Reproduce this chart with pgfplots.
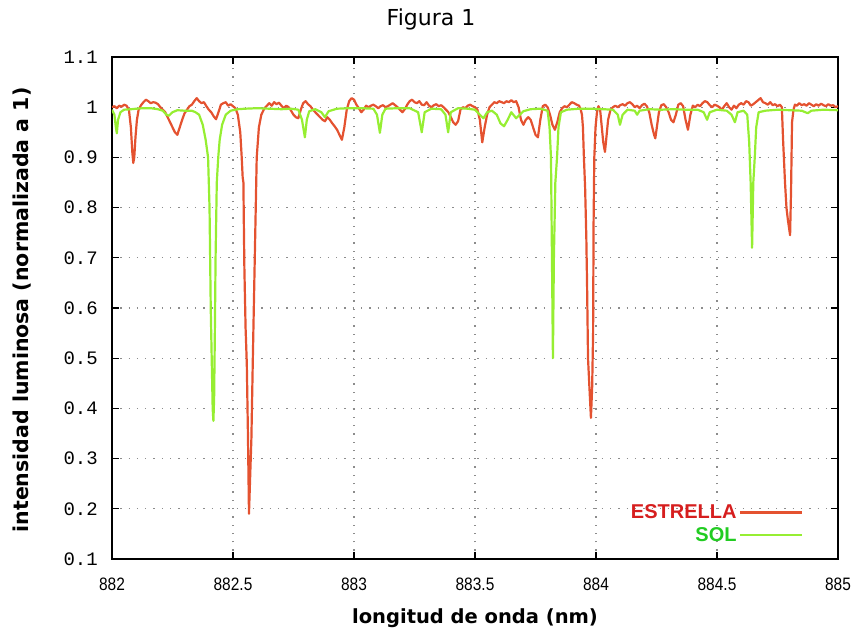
\documentclass[border=0pt]{standalone}
\usepackage{pgfplots}
\pgfplotsset{compat=1.18}
\usepackage{fontspec}
\setmainfont{DejaVu Sans}
\newfontfamily\monofont{Liberation Mono}
\newfontfamily\arialfont{Liberation Sans}
\newfontfamily\narrowfont{Liberation Sans}[FakeStretch=0.86]
\definecolor{redline}{RGB}{228,82,48}
\definecolor{greenline}{RGB}{150,238,50}
\definecolor{legred}{RGB}{214,30,30}
\definecolor{leggreen}{RGB}{34,204,34}
\definecolor{gridgray}{RGB}{140,140,140}

\pgfplotstableread{
x y
882.00 1.000
882.01 1.002
882.02 0.998
882.03 1.003
882.04 1.001
882.05 1.005
882.06 1.003
882.07 0.995
882.078 0.96
882.084 0.91
882.088 0.889
882.092 0.90
882.097 0.94
882.103 0.975
882.11 0.995
882.12 1.004
882.13 1.010
882.14 1.015
882.15 1.012
882.16 1.008
882.17 1.010
882.18 1.009
882.19 1.006
882.20 1.000
882.21 0.995
882.22 0.99
882.235 0.975
882.25 0.96
882.26 0.95
882.27 0.945
882.28 0.96
882.29 0.975
882.30 0.988
882.31 0.995
882.32 1.002
882.33 1.005
882.34 1.012
882.35 1.018
882.36 1.012
882.37 1.008
882.38 1.010
882.39 1.002
882.40 0.995
882.41 0.99
882.42 0.982
882.43 0.976
882.44 0.99
882.45 1.005
882.46 1.008
882.47 1.010
882.48 1.003
882.49 1.006
882.50 1.002
882.51 0.998
882.52 0.985
882.53 0.95
882.536 0.90
882.540 0.86
882.543 0.85
882.545 0.76
882.547 0.68
882.552 0.56
882.557 0.49
882.562 0.34
882.566 0.19
882.570 0.25
882.576 0.34
882.582 0.50
882.590 0.70
882.598 0.90
882.607 0.96
882.617 0.985
882.63 0.998
882.64 1.003
882.65 1.008
882.66 1.003
882.67 1.010
882.68 1.006
882.69 1.009
882.70 1.003
882.71 0.998
882.72 1.003
882.73 1.000
882.74 0.993
882.75 0.985
882.76 0.98
882.77 0.978
882.78 0.995
882.79 1.008
882.80 1.012
882.81 1.006
882.82 1.002
882.83 0.995
882.84 0.99
882.85 0.985
882.86 0.98
882.87 0.975
882.88 0.972
882.89 0.98
882.90 0.975
882.91 0.968
882.92 0.962
882.93 0.955
882.94 0.945
882.95 0.935
882.96 0.96
882.97 0.995
882.98 1.012
882.99 1.018
883.00 1.015
883.01 1.005
883.02 0.998
883.03 0.99
883.04 0.995
883.05 1.003
883.06 1.000
883.07 1.003
883.08 1.005
883.09 1.002
883.10 0.998
883.11 1.002
883.12 1.004
883.13 1.000
883.14 1.002
883.15 1.005
883.16 1.008
883.17 1.004
883.18 1.000
883.19 0.995
883.20 0.99
883.21 0.996
883.22 1.005
883.23 1.012
883.24 1.015
883.25 1.01
883.26 1.008
883.27 1.012
883.28 1.005
883.29 1.004
883.30 1.010
883.31 1.003
883.32 1.000
883.33 1.004
883.34 1.006
883.35 1.002
883.36 1.004
883.37 1.000
883.38 0.995
883.39 0.99
883.40 0.98
883.41 0.97
883.42 0.965
883.43 0.972
883.44 0.995
883.45 1.000
883.46 0.998
883.47 1.003
883.48 1.005
883.49 1.002
883.50 1.000
883.51 0.995
883.52 0.975
883.53 0.93
883.54 0.96
883.55 0.985
883.56 1.000
883.57 1.005
883.58 1.010
883.59 1.008
883.60 1.012
883.61 1.010
883.62 1.008
883.63 1.012
883.64 1.010
883.65 1.014
883.66 1.010
883.67 1.012
883.68 1.000
883.69 0.975
883.70 0.965
883.71 0.975
883.72 0.980
883.73 0.975
883.74 0.960
883.75 0.945
883.76 0.940
883.77 0.975
883.78 1.002
883.79 1.005
883.80 1.000
883.81 0.985
883.82 0.965
883.83 0.955
883.84 0.970
883.85 0.990
883.86 0.998
883.87 1.002
883.88 1.000
883.89 1.005
883.90 1.010
883.91 1.008
883.92 1.005
883.93 1.003
883.937 0.995
883.942 0.985
883.946 0.96
883.950 0.90
883.955 0.84
883.960 0.74
883.963 0.65
883.967 0.50
883.972 0.45
883.979 0.381
883.984 0.44
883.988 0.55
883.990 0.77
883.993 0.90
883.998 0.96
884.004 0.99
884.01 1.002
884.017 0.995
884.024 0.96
884.030 0.93
884.037 0.911
884.043 0.94
884.05 0.975
884.06 0.995
884.07 1.000
884.08 1.003
884.09 1.000
884.10 1.004
884.11 1.006
884.12 1.003
884.13 1.008
884.14 1.010
884.15 1.006
884.16 1.000
884.17 1.003
884.18 0.998
884.19 1.004
884.20 1.007
884.21 1.002
884.22 0.99
884.23 0.965
884.24 0.945
884.245 0.938
884.25 0.955
884.26 0.99
884.27 1.004
884.28 1.006
884.29 1.000
884.30 0.99
884.31 0.975
884.32 0.97
884.33 0.985
884.34 1.005
884.35 1.008
884.36 1.002
884.37 0.975
884.38 0.955
884.39 0.985
884.40 1.003
884.41 1.000
884.42 1.005
884.43 1.002
884.44 1.008
884.45 1.012
884.46 1.010
884.47 1.004
884.48 1.000
884.49 1.005
884.50 1.003
884.51 1.000
884.52 0.995
884.53 1.002
884.54 1.008
884.55 1.000
884.56 0.995
884.57 1.003
884.58 0.998
884.59 1.005
884.60 1.008
884.61 1.005
884.62 1.012
884.63 1.010
884.64 1.003
884.65 1.006
884.66 1.010
884.67 1.014
884.68 1.018
884.69 1.010
884.70 1.008
884.71 1.005
884.72 1.010
884.73 1.004
884.74 1.006
884.75 1.002
884.76 1.005
884.768 1.000
884.773 0.935
884.781 0.85
884.787 0.80
884.793 0.775
884.802 0.745
884.806 0.835
884.810 0.97
884.816 0.995
884.822 1.005
884.83 1.003
884.84 1.008
884.85 1.004
884.86 1.006
884.87 1.003
884.88 1.008
884.89 1.005
884.90 1.002
884.91 1.006
884.92 1.003
884.93 1.007
884.94 1.004
884.95 1.002
884.96 1.006
884.97 1.003
884.98 1.004
884.99 1.000
885.00 1.002
}\estrella

\pgfplotstableread{
x y
882.000 0.995
882.010 0.985
882.016 0.960
882.020 0.948
882.025 0.975
882.035 0.990
882.05 0.995
882.08 0.996
882.10 0.997
882.13 0.998
882.16 0.998
882.19 0.996
882.21 0.993
882.225 0.985
882.235 0.983
882.25 0.990
882.27 0.994
882.30 0.993
882.33 0.993
882.345 0.99
882.36 0.985
882.375 0.965
882.387 0.935
882.397 0.900
882.403 0.80
882.408 0.60
882.412 0.50
882.416 0.40
882.419 0.375
882.422 0.42
882.425 0.55
882.428 0.70
882.433 0.85
882.439 0.90
882.445 0.935
882.455 0.965
882.47 0.985
882.49 0.993
882.52 0.996
882.55 0.997
882.60 0.998
882.65 0.997
882.70 0.996
882.74 0.997
882.77 0.995
882.785 0.975
882.797 0.940
882.805 0.975
882.815 0.992
882.84 0.996
882.865 0.990
882.88 0.980
882.895 0.992
882.93 0.997
882.98 0.998
883.03 0.998
883.08 0.997
883.095 0.985
883.107 0.949
883.117 0.985
883.13 0.997
883.18 0.998
883.23 0.998
883.265 0.990
883.28 0.950
883.292 0.99
883.32 0.997
883.36 0.996
883.378 0.985
883.389 0.950
883.40 0.99
883.43 0.998
883.47 0.997
883.50 0.995
883.52 0.985
883.535 0.978
883.55 0.99
883.57 0.993
883.59 0.985
883.605 0.968
883.62 0.962
883.635 0.975
883.65 0.99
883.67 0.978
883.685 0.985
883.70 0.992
883.73 0.996
883.77 0.997
883.80 0.993
883.808 0.96
883.814 0.90
883.818 0.70
883.822 0.50
883.826 0.70
883.832 0.85
883.839 0.90
883.845 0.96
883.855 0.99
883.88 0.995
883.93 0.997
883.98 0.997
884.03 0.996
884.07 0.995
884.09 0.985
884.099 0.965
884.11 0.985
884.13 0.995
884.16 0.993
884.17 0.985
884.18 0.993
884.22 0.996
884.27 0.995
884.32 0.996
884.37 0.995
884.42 0.995
884.445 0.99
884.459 0.975
884.47 0.99
884.50 0.995
884.54 0.993
884.56 0.985
884.574 0.97
884.585 0.99
884.61 0.993
884.625 0.985
884.633 0.93
884.639 0.85
884.645 0.72
884.650 0.85
884.656 0.90
884.662 0.96
884.672 0.99
884.70 0.993
884.75 0.995
884.80 0.994
884.85 0.993
884.875 0.988
884.89 0.993
884.94 0.995
885.00 0.994
}\sol

\begin{document}
\begin{tikzpicture}
\path[use as bounding box] (-112pt,-76pt) rectangle (744pt,559pt);
\begin{axis}[
  scale only axis,
  width=726pt, height=502pt,
  xmin=882, xmax=885, ymin=0.1, ymax=1.1,
  xtick={882,882.5,883,883.5,884,884.5,885},
  xticklabels={882,882.5,883,883.5,884,884.5,885},
  ytick={0.1,0.2,0.3,0.4,0.5,0.6,0.7,0.8,0.9,1,1.1},
  yticklabels={0.1,0.2,0.3,0.4,0.5,0.6,0.7,0.8,0.9,1,1.1},
  /pgf/number format/assume math mode=true,
  xticklabel style={font=\narrowfont\fontsize{18}{20}\selectfont, inner sep=0pt, yshift=-19pt},
  yticklabel style={font=\monofont\fontsize{19}{21}\selectfont, inner sep=0pt, xshift=-14pt},
  axis line style={line width=1.6pt},
  major tick length=7pt,
  tick style={black, line width=1.2pt},
  grid=major,
  grid style={gridgray, line width=1.3pt, dash pattern=on 1.3pt off 7pt},
  title={Figura 1},
  title style={at={(0.4394,1)}, anchor=center, yshift=32pt, font=\fontsize{22}{26}\selectfont},
  xlabel={longitud de onda (nm)},
  xlabel style={at={(axis description cs:0.5,-0.1175)}, anchor=center, font=\bfseries\fontsize{19.5}{23}\selectfont},
  ylabel={intensidad luminosa (normalizada a 1)},
  ylabel style={at={(axis description cs:-0.124,0.496)}, anchor=center, font=\bfseries\fontsize{20.5}{24}\selectfont},
  legend plot pos=right,
  legend cell align=right,
  legend image code/.code={\draw[#1, line width=2.4pt] (0pt,0pt) -- (62pt,0pt);},
  legend style={draw=none, fill=none, at={(axis description cs:0.952,0.028)}, anchor=south east,
    row sep=3pt, inner sep=0pt},
]
\addplot[redline, line width=2.2pt, line join=round] table[x=x,y=y] {\estrella};
\addlegendentry{\arialfont\bfseries\fontsize{20}{22}\selectfont\textcolor{legred}{ESTRELLA}\hspace{8pt}}
\addplot[greenline, line width=2.2pt, line join=round] table[x=x,y=y] {\sol};
\addlegendentry{\arialfont\bfseries\fontsize{20}{22}\selectfont\textcolor{leggreen}{SOL}\hspace{8pt}}
\end{axis}
\end{tikzpicture}
\end{document}
